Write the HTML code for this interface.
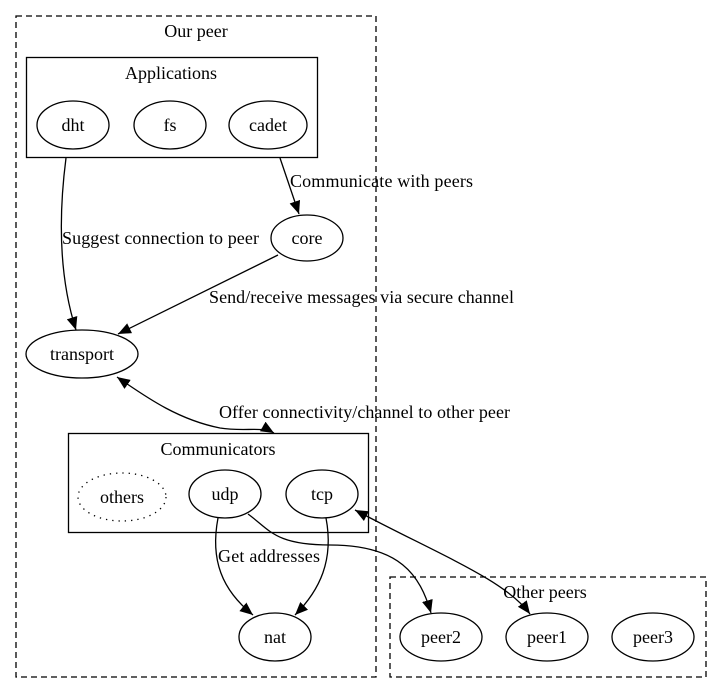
<!DOCTYPE html>
<html><head><style>body{margin:0;background:#fff}svg{display:block}text{font-family:"Liberation Serif",serif;font-size:18px;fill:#000}</style></head>
<body>
<svg width="719" height="693" viewBox="0 0 719 693" xmlns="http://www.w3.org/2000/svg">
<defs><marker id="a" viewBox="0 0 10 10" refX="10" refY="5" markerWidth="13" markerHeight="11" markerUnits="userSpaceOnUse" orient="auto-start-reverse" preserveAspectRatio="none"><path d="M0,0 L10,5 L0,10 z" fill="#000"/></marker></defs>
<g fill="none" stroke="#000" stroke-width="1.3">
<rect x="16" y="16" width="360" height="661" stroke-dasharray="6,4"/>
<rect x="390" y="577" width="316" height="100" stroke-dasharray="6,4"/>
<rect x="26.5" y="57.5" width="291" height="100"/>
<rect x="68.5" y="433.5" width="300" height="99"/>
<ellipse cx="73" cy="125" rx="36" ry="24"/>
<ellipse cx="170" cy="125" rx="36" ry="24"/>
<ellipse cx="268" cy="125" rx="39" ry="24"/>
<ellipse cx="307" cy="238" rx="36" ry="23"/>
<ellipse cx="82" cy="354" rx="56" ry="24"/>
<ellipse cx="122" cy="497" rx="44" ry="24" stroke-dasharray="1.3,5"/>
<ellipse cx="225" cy="494" rx="36" ry="24"/>
<ellipse cx="322" cy="494" rx="36" ry="24"/>
<ellipse cx="275" cy="637" rx="36" ry="24"/>
<ellipse cx="441" cy="637" rx="41" ry="24"/>
<ellipse cx="547" cy="637" rx="41" ry="24"/>
<ellipse cx="653" cy="637" rx="41" ry="24"/>
<path d="M66,158 C58,220 60,280 76,330" marker-end="url(#a)"/>
<path d="M280,158 L299,214" marker-end="url(#a)"/>
<path d="M278,255 L118,334" marker-end="url(#a)"/>
<path d="M117,377 C150,400 180,420 220,428 C245,432 262,426 274,433" marker-start="url(#a)" marker-end="url(#a)"/>
<path d="M218,518 C210,560 222,590 253,615" marker-end="url(#a)"/>
<path d="M326,518 C334,560 320,590 295,615" marker-end="url(#a)"/>
<path d="M248,514 C270,530 275,545 330,545 C400,545 420,575 431,613" marker-end="url(#a)"/>
<path d="M355,510 C440,555 505,580 530,614" marker-start="url(#a)" marker-end="url(#a)"/>
</g>
<g text-anchor="middle">
<text x="196" y="37">Our peer</text>
<text x="171" y="79">Applications</text>
<text x="73" y="131">dht</text>
<text x="170" y="131">fs</text>
<text x="268" y="131">cadet</text>
<text x="307" y="244">core</text>
<text x="82" y="360">transport</text>
<text x="218" y="455">Communicators</text>
<text x="122" y="503">others</text>
<text x="225" y="500">udp</text>
<text x="322" y="500">tcp</text>
<text x="275" y="643">nat</text>
<text x="441" y="643">peer2</text>
<text x="547" y="643">peer1</text>
<text x="653" y="643">peer3</text>
<text x="545" y="598">Other peers</text>
</g>
<text x="290" y="187" textLength="183">Communicate with peers</text>
<text x="62" y="244" textLength="197">Suggest connection to peer</text>
<text x="209" y="303" textLength="305">Send/receive messages via secure channel</text>
<text x="219" y="418" textLength="291">Offer connectivity/channel to other peer</text>
<text x="218" y="562" textLength="102">Get addresses</text>
</svg>
</body></html>
